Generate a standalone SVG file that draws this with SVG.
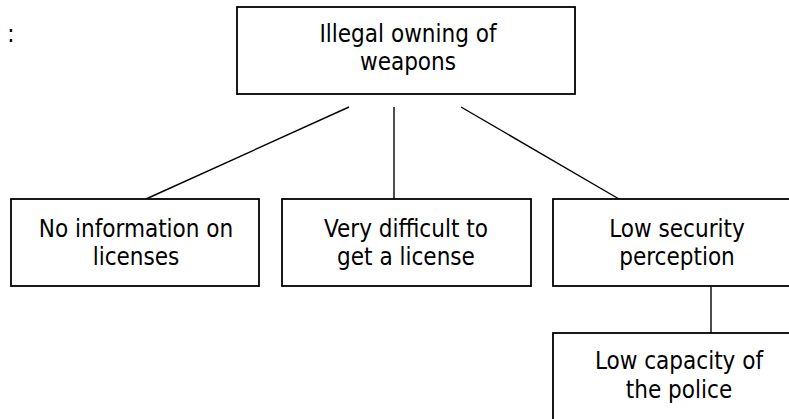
<svg xmlns="http://www.w3.org/2000/svg" width="789" height="419" viewBox="0 0 789 419">
<style>
.box{fill:#fff;stroke:#000;stroke-width:1.8}
.t{font-family:"DejaVu Sans Condensed","DejaVu Sans",Verdana,sans-serif;font-stretch:condensed;font-size:24px;fill:#000;text-anchor:middle}
.c{stroke:#000;stroke-width:1.4;fill:none}
</style>
<rect width="789" height="419" fill="#fff"/>
<text x="11" y="42" class="t">:</text>
<g id="connectors">
<line class="c" x1="349" y1="107" x2="146" y2="199"/>
<line class="c" x1="394" y1="107" x2="394" y2="199"/>
<line class="c" x1="461" y1="107" x2="619" y2="199"/>
<line class="c" x1="711" y1="286" x2="711" y2="333"/>
</g>
<g id="n0">
<rect class="box" x="237" y="7" width="338" height="87"/>
<text class="t" x="408" y="42">Illegal owning of</text>
<text class="t" x="408" y="70">weapons</text>
</g>
<g id="n1">
<rect class="box" x="11" y="199" width="248" height="87"/>
<text class="t" x="136" y="237">No information on</text>
<text class="t" x="136" y="265">licenses</text>
</g>
<g id="n2">
<rect class="box" x="282" y="199" width="249" height="87"/>
<text class="t" x="406" y="237">Very difficult to</text>
<text class="t" x="406" y="265">get a license</text>
</g>
<g id="n3">
<rect class="box" x="553" y="199" width="255" height="87"/>
<text class="t" x="677" y="237">Low security</text>
<text class="t" x="677" y="265">perception</text>
</g>
<g id="n4">
<rect class="box" x="553" y="333" width="255" height="95"/>
<text class="t" x="679" y="369">Low capacity of</text>
<text class="t" x="679" y="398">the police</text>
</g>
</svg>
